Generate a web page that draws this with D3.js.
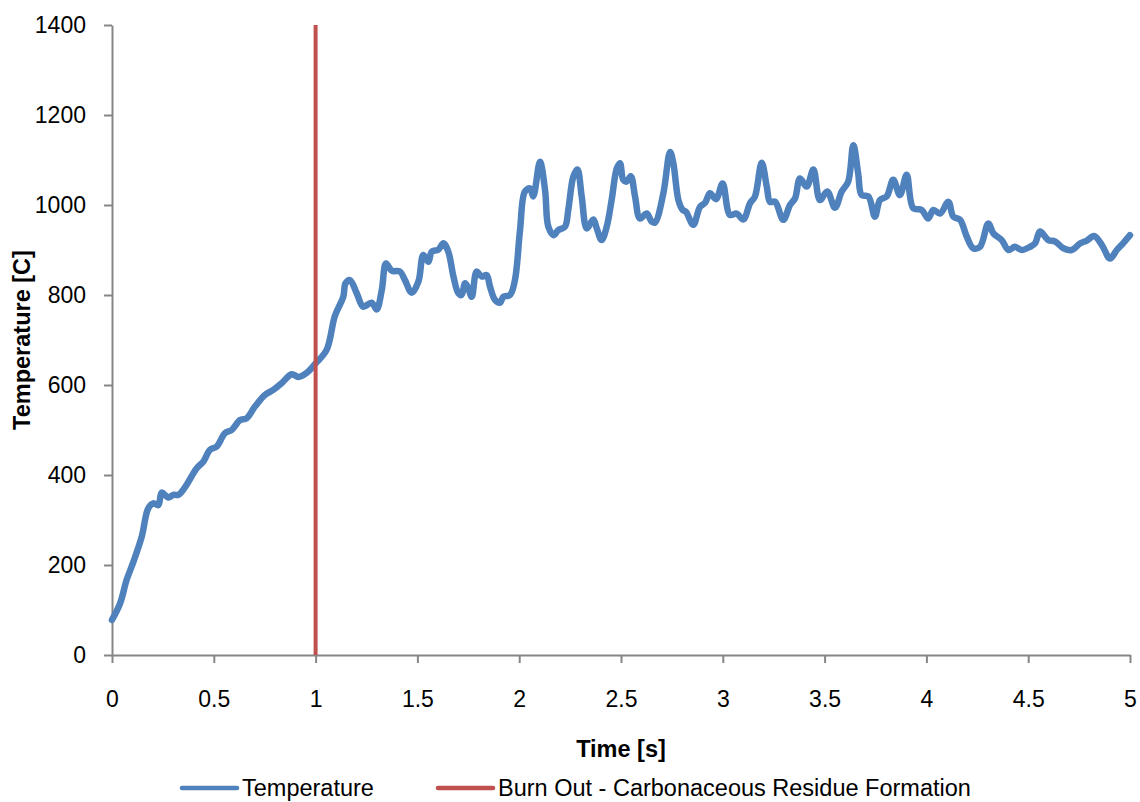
<!DOCTYPE html>
<html>
<head>
<meta charset="utf-8">
<script src="https://cdn.jsdelivr.net/npm/d3@7"></script>
<style>
  body { margin: 0; background: #fff; }
  svg text { font-family: "Liberation Sans", Arial, sans-serif; fill: #000; }
</style>
</head>
<body>
<script>
// time [s] and temperature [C]
const times = [0, 0.04, 0.072, 0.105, 0.146, 0.178, 0.203, 0.228, 0.244, 0.277, 0.301, 0.326, 0.359,
  0.416, 0.449, 0.481, 0.514, 0.555, 0.588, 0.629, 0.661, 0.702, 0.751, 0.792, 0.833, 0.883, 0.915,
  0.956, 1.0, 1.054, 1.095, 1.136, 1.147, 1.169, 1.202, 1.234, 1.275, 1.3, 1.325, 1.346, 1.374,
  1.415, 1.439, 1.472, 1.505, 1.529, 1.554, 1.57, 1.603, 1.628, 1.652, 1.677, 1.701, 1.717, 1.734,
  1.75, 1.767, 1.791, 1.816, 1.84, 1.857, 1.881, 1.906, 1.922, 1.955, 1.979, 2.004, 2.028, 2.053,
  2.069, 2.102, 2.127, 2.143, 2.168, 2.192, 2.225, 2.241, 2.266, 2.286, 2.307, 2.332, 2.364, 2.381,
  2.405, 2.43, 2.454, 2.479, 2.495, 2.511, 2.528, 2.548, 2.569, 2.593, 2.626, 2.651, 2.667, 2.708,
  2.741, 2.757, 2.782, 2.803, 2.819, 2.855, 2.888, 2.913, 2.937, 2.967, 2.999, 3.035, 3.068, 3.101,
  3.134, 3.158, 3.191, 3.216, 3.232, 3.257, 3.297, 3.33, 3.355, 3.379, 3.412, 3.445, 3.477, 3.513,
  3.551, 3.584, 3.616, 3.641, 3.665, 3.682, 3.715, 3.747, 3.772, 3.805, 3.837, 3.87, 3.903, 3.935,
  3.977, 4.009, 4.034, 4.067, 4.108, 4.132, 4.165, 4.198, 4.23, 4.263, 4.304, 4.329, 4.37, 4.403,
  4.435, 4.468, 4.509, 4.534, 4.558, 4.599, 4.632, 4.673, 4.714, 4.756, 4.788, 4.824, 4.862, 4.902,
  4.935, 4.968, 5.0];
const temps = [78, 115, 167, 207, 263, 326, 337, 333, 361, 350, 356, 356, 373,
  415, 430, 456, 463, 493, 500, 522, 526, 552, 578, 589, 604, 624, 618,
  627, 648, 678, 754, 796, 826, 833, 804, 774, 783, 768, 811, 870, 854,
  852, 833, 805, 830, 889, 874, 896, 901, 915, 896, 841, 804, 800, 826,
  815, 796, 852, 841, 844, 818, 789, 783, 796, 800, 833, 944, 1030, 1037,
  1019, 1096, 1033, 952, 933, 944, 952, 989, 1063, 1079, 1019, 948, 968, 948,
  922, 952, 1011, 1081, 1093, 1056, 1052, 1064, 1019, 970, 981, 963, 961, 1026,
  1118, 1093, 1011, 989, 985, 956, 996, 1005, 1026, 1013, 1048, 978, 981, 968,
  1004, 1019, 1094, 1041, 1007, 1007, 967, 1000, 1015, 1059, 1041, 1079, 1011, 1030,
  994, 1030, 1052, 1133, 1070, 1022, 1019, 974, 1011, 1019, 1056, 1022, 1067, 993,
  989, 970, 989, 981, 1007, 974, 967, 930, 904, 907, 959, 937, 922, 900,
  907, 900, 907, 915, 941, 922, 919, 904, 900, 915, 921, 931, 911, 881,
  900, 916, 933];

const burnOutTime = 1.0;
const xTicks = [0, 0.5, 1, 1.5, 2, 2.5, 3, 3.5, 4, 4.5, 5];
const yTicks = [0, 200, 400, 600, 800, 1000, 1200, 1400];
const seriesNames = ["Temperature", "Burn Out - Carbonaceous Residue Formation"];
const seriesColors = ["#4F81BD", "#C0504D"];

const w = 1140;
const h = 802;
const margin = { left: 112, right: 10, top: 25, bottom: 147 };

const svg = d3.select("body")
  .append("svg")
  .attr("width", w)
  .attr("height", h);

const x = d3.scaleLinear().domain([0, 5]).range([margin.left, w - margin.right]);
const y = d3.scaleLinear().domain([0, 1400]).range([h - margin.bottom, margin.top]);

// axes
const xAxis = svg.append("g")
  .attr("transform", `translate(0,${y(0)})`)
  .call(d3.axisBottom(x).tickValues(xTicks).tickSize(8).tickSizeOuter(0).tickPadding(28)
    .tickFormat((d) => d));
const yAxis = svg.append("g")
  .attr("transform", `translate(${x(0)},0)`)
  .call(d3.axisLeft(y).tickValues(yTicks).tickSize(8).tickSizeOuter(0).tickPadding(18)
    .tickFormat(d3.format("d")));

[xAxis, yAxis].forEach((g) => {
  g.select(".domain").attr("stroke", "#868686").attr("stroke-width", 2);
  g.selectAll(".tick line").attr("stroke", "#868686").attr("stroke-width", 2);
  g.selectAll(".tick text").style("font-size", "23px").attr("fill", "#000");
});

// temperature line
const pts = times.map((t, i) => [t, temps[i]]);
svg.append("path")
  .datum(pts)
  .attr("fill", "none")
  .attr("stroke", seriesColors[0])
  .attr("stroke-width", 6.5)
  .attr("stroke-linejoin", "round")
  .attr("stroke-linecap", "round")
  .attr("d", d3.line().x((d) => x(d[0])).y((d) => y(d[1])).curve(d3.curveCatmullRom));

// burn out marker
svg.append("line")
  .attr("x1", x(burnOutTime)).attr("x2", x(burnOutTime))
  .attr("y1", y(0)).attr("y2", y(1400))
  .attr("stroke", seriesColors[1])
  .attr("stroke-width", 4);

// axis titles
svg.append("text")
  .attr("x", (x(0) + x(5)) / 2)
  .attr("y", 757)
  .attr("text-anchor", "middle")
  .style("font-size", "23.5px")
  .style("font-weight", "bold")
  .text("Time [s]");

svg.append("text")
  .attr("transform", `translate(30,${(y(0) + y(1400)) / 2}) rotate(-90)`)
  .attr("text-anchor", "middle")
  .style("font-size", "23.5px")
  .style("font-weight", "bold")
  .text("Temperature [C]");

// legend
const legendX = [182, 438];
const legend = svg.selectAll(".legend")
  .data(seriesNames)
  .enter()
  .append("g")
  .attr("class", "legend")
  .attr("transform", (d, i) => `translate(${legendX[i]},788)`);

legend.append("line")
  .attr("x1", 0).attr("x2", 55)
  .attr("stroke", (d, i) => seriesColors[i])
  .attr("stroke-width", 4.5)
  .attr("stroke-linecap", "round");

legend.append("text")
  .attr("x", 60)
  .attr("dy", "0.35em")
  .style("font-size", "23.5px")
  .text((d) => d);
</script>
</body>
</html>
